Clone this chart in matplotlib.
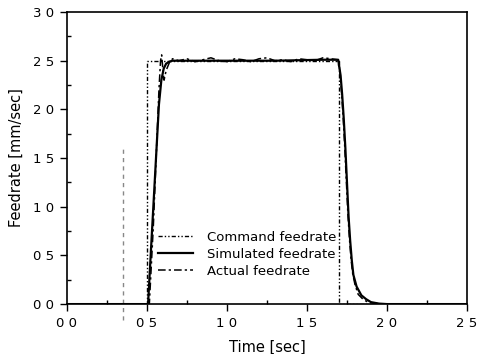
import matplotlib
matplotlib.use("Agg")
import matplotlib.pyplot as plt
from matplotlib.ticker import FixedLocator, MultipleLocator

plt.rcParams['font.family'] = ['DejaVu Sans']

# ---- data ----
cmd_t = [0.0, 0.50, 0.50, 1.70, 1.70, 2.5]
cmd_v = [0.0, 0.0, 2.5, 2.5, 0.0, 0.0]

sim_t = [0.0, 0.507, 0.525, 0.545, 0.56, 0.575, 0.59, 0.605, 0.62, 0.64, 0.66,
         0.70, 1.00, 1.30, 1.60, 1.695,
         1.71, 1.72, 1.73, 1.74, 1.75, 1.76, 1.77, 1.78, 1.79, 1.81, 1.84, 1.87,
         1.90, 1.95, 2.00, 2.5]
sim_v = [0.0, 0.0, 0.55, 1.15, 1.6, 2.05, 2.3, 2.42, 2.47, 2.49, 2.5,
         2.5, 2.5, 2.5, 2.51, 2.51,
         2.35, 2.15, 1.9, 1.6, 1.25, 0.9, 0.65, 0.45, 0.3, 0.18, 0.09, 0.05,
         0.02, 0.005, 0.0, 0.0]

act_t = [0.0, 0.515, 0.54, 0.56, 0.575, 0.585, 0.592, 0.60, 0.607, 0.62, 0.64,
         0.66, 0.70, 0.75, 0.80, 0.85, 0.90, 0.95, 1.00, 1.05, 1.10, 1.15, 1.20,
         1.25, 1.30, 1.35, 1.40, 1.45, 1.50, 1.55, 1.60, 1.65, 1.69,
         1.705, 1.715, 1.725, 1.735, 1.745, 1.755, 1.765, 1.775, 1.785, 1.80,
         1.82, 1.85, 1.88, 1.92, 1.97, 2.5]
act_v = [0.0, 0.0, 0.8, 1.6, 2.2, 2.5, 2.56, 2.4, 2.3, 2.4, 2.48,
         2.52, 2.5, 2.52, 2.49, 2.51, 2.53, 2.50, 2.49, 2.52, 2.51, 2.49, 2.52,
         2.53, 2.50, 2.51, 2.49, 2.52, 2.51, 2.50, 2.53, 2.52, 2.51,
         2.4, 2.2, 1.95, 1.65, 1.3, 0.95, 0.68, 0.47, 0.32, 0.2,
         0.1, 0.05, 0.02, 0.008, 0.0, 0.0]

marker_t = [0.35, 0.35]
marker_v = [-0.16, 1.6]

x_ticks = [0.0, 0.5, 1.0, 1.5, 2.0, 2.5]
x_labels = ["0 0", "0 5", "1 0", "1 5", "2 0", "2 5"]
y_ticks = [0.0, 0.5, 1.0, 1.5, 2.0, 2.5, 3.0]
y_labels = ["0 0", "0 5", "1 0", "1 5", "2 0", "2 5", "3 0"]

# ---- figure ----
fig = plt.figure(figsize=(4.78, 3.54), dpi=100)
ax = fig.add_axes([0.140, 0.141, 0.837, 0.825])

ax.plot(marker_t, marker_v, color='#888888', lw=1.0, ls=(0, (3, 3)), clip_on=False)
ax.plot(cmd_t, cmd_v, color='black', lw=1.0, ls=(0, (3, 1.5, 1, 1.5, 1, 1.5)),
        label='Command feedrate')
ax.plot(sim_t, sim_v, color='black', lw=1.6, ls='-', label='Simulated feedrate')
ax.plot(act_t, act_v, color='black', lw=1.1, ls=(0, (5, 2, 1.5, 2)),
        label='Actual feedrate')

ax.set_xlim(0, 2.5)
ax.set_ylim(0, 3.0)
ax.xaxis.set_major_locator(FixedLocator(x_ticks))
ax.set_xticklabels(x_labels)
ax.yaxis.set_major_locator(FixedLocator(y_ticks))
ax.set_yticklabels(y_labels)
ax.xaxis.set_minor_locator(MultipleLocator(0.25))
ax.yaxis.set_minor_locator(MultipleLocator(0.25))
ax.tick_params(which='major', direction='out', length=5, width=1, labelsize=9.5, pad=4)
ax.tick_params(which='minor', direction='in', length=3, width=1)
for s in ax.spines.values():
    s.set_linewidth(1.2)

ax.set_xlabel('Time [sec]', fontsize=10.5, labelpad=7)
ax.set_ylabel('Feedrate [mm/sec]', fontsize=10.5, labelpad=7)

leg = ax.legend(loc='upper left', bbox_to_anchor=(0.2275, 0.25), frameon=False,
                fontsize=9.5, handlelength=2.65, handletextpad=1.05, labelspacing=0.3,
                borderpad=0, borderaxespad=0)

fig.savefig('out.png', dpi=100)
